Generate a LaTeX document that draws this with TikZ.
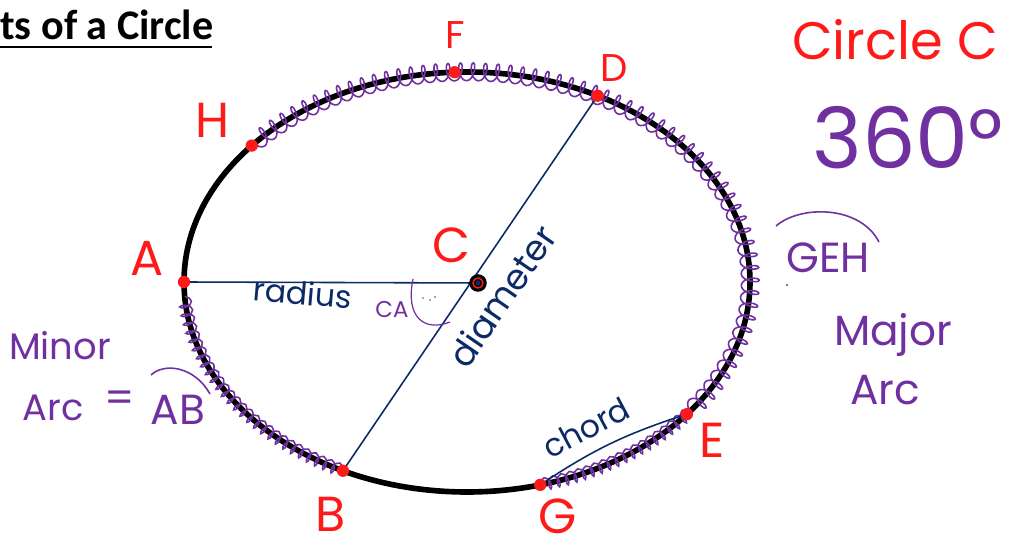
\documentclass[tikz,border=0pt]{standalone}
\usepackage{fontspec}
\setmainfont{Carlito}
\newfontfamily\hand{Poppins}
\usetikzlibrary{decorations.pathmorphing}

\definecolor{inkred}{HTML}{FF1A1A}
\definecolor{inkpurple}{HTML}{7030A0}
\definecolor{inknavy}{HTML}{0B2A66}

\tikzset{
  ptlabel/.style={text=inkred,inner sep=0pt,font=\hand\fontsize{28}{28}\selectfont},
  notes/.style={text=inkpurple,inner sep=0pt,font=\hand\fontsize{24}{24}\selectfont},
  ptdot/.style={circle,fill=inkred,inner sep=0pt,minimum size=7pt},
  pen/.style={inknavy,line width=0.9pt},
  squiggle/.style={inkpurple,line width=0.9pt,decorate,
    decoration={coil,amplitude=5pt,segment length=7pt}}
}

\begin{document}
\begin{tikzpicture}[x=0.02cm,y=-0.02cm]
\useasboundingbox (0,0) rectangle (1011,546);

% title, cut at the left edge
\node[anchor=base west,inner sep=0pt,font=\bfseries\fontsize{24}{24}\selectfont] (title) at (0,40) {ts of a Circle};
\draw[line width=1.6pt] (0,47) -- (212,47);

% the circle and its points
\draw[line width=3.2pt] (467,282) ellipse [x radius=283, y radius=210];
\coordinate (A) at ({467+283*cos(180)},{282-210*sin(180)});
\coordinate (B) at ({467+283*cos(244)},{282-210*sin(244)});
\coordinate (G) at ({467+283*cos(285)},{282-210*sin(285)});
\coordinate (E) at ({467+283*cos(321)},{282-210*sin(321)});
\coordinate (D) at ({467+283*cos(62.5)},{282-210*sin(62.5)});
\coordinate (F) at ({467+283*cos(92.5)},{282-210*sin(92.5)});
\coordinate (H) at ({467+283*cos(139.5)},{282-210*sin(139.5)});
\coordinate (C) at (478,283);

% marked arcs
\draw[squiggle,decoration={amplitude=3.5pt,segment length=5pt}] plot[domain=285:322,samples=30] ({467+283*cos(\x)},{282-210*sin(\x)});
\draw[squiggle] plot[domain=322:500,samples=120] ({467+283*cos(\x)},{282-210*sin(\x)});
\draw[squiggle,decoration={amplitude=3.5pt,segment length=5pt}] plot[domain=184:244,samples=40] ({467+283*cos(\x)},{282-210*sin(\x)});

% radius, diameter, chord
\draw[pen] (A) -- (C);
\draw[pen] (B) -- (D);
\draw[pen] (G) to[bend left=8] (E);

% dots
\foreach \p in {A,B,G,E,D,F,H}
  \node[ptdot] (dot\p) at (\p) {};
\node[circle,fill=black,inner sep=0pt,minimum size=10pt] (ctr) at (C) {};
\draw[inkred,line width=0.8pt] (C) circle (5);
\fill[inknavy] (C) circle (2.5);

% point names
\node[ptlabel] (lA) at (147,258) {A};
\node[ptlabel] (lB) at (331,514) {B};
\node[ptlabel] (lG) at (558,516) {G};
\node[ptlabel] (lE) at (712,440) {E};
\node[ptlabel,font=\hand\fontsize{22}{22}\selectfont] (lD) at (614,68) {D};
\node[ptlabel,font=\hand\fontsize{22}{22}\selectfont] (lF) at (455,35) {F};
\node[ptlabel] (lH) at (213,120) {H};
\node[ptlabel] (lC) at (451,245) {C};

% line names
\node[text=inknavy,font=\hand\fontsize{18}{18}\selectfont,rotate=-5] (rad) at (303,293) {radius};
\node[text=inknavy,font=\hand\fontsize{20}{20}\selectfont,rotate=55.5] (dia) at (502,296) {diameter};
\node[text=inknavy,font=\hand\fontsize{18}{18}\selectfont,rotate=28] (chd) at (586,428) {chord};

% angle mark at the centre
\node[notes,font=\hand\fontsize{13}{13}\selectfont] (ca) at (392,310) {CA};
\draw[inkpurple,line width=0.7pt] (413,279) .. controls (405,318) and (425,332) .. (450,322);
\foreach \q in {(423,298),(430,300),(435,297)}
  \fill[inkpurple] \q circle (0.9);

% notes on the right
\node[text=inkred,inner sep=0pt,font=\hand\fontsize{30}{30}\selectfont] (title2) at (895,40) {Circle C};
\node[notes,font=\hand\fontsize{48}{48}\selectfont] (deg) at (908,138) {360\textdegree};
\node[notes,font=\hand\fontsize{24}{24}\selectfont] (geh) at (828,258) {GEH};
\draw[inkpurple,line width=0.9pt] (776,226) .. controls (800,205) and (860,205) .. (879,242);
\fill[inkpurple] (787,285) circle (1.2);
\node[notes] (maj) at (893,335) {Major};
\node[notes] (arc1) at (885,390) {Arc};

% notes on the left
\node[notes,font=\hand\fontsize{21}{21}\selectfont] (mnr) at (60,346) {Minor};
\node[notes,font=\hand\fontsize{21}{21}\selectfont] (arc2) at (53,408) {Arc};
\node[notes] (eq) at (120,402) {=};
\node[notes] (ab) at (178,410) {AB};
\draw[inkpurple,line width=0.9pt] (151,375) .. controls (165,362) and (195,367) .. (210,394);
\end{tikzpicture}
\end{document}
